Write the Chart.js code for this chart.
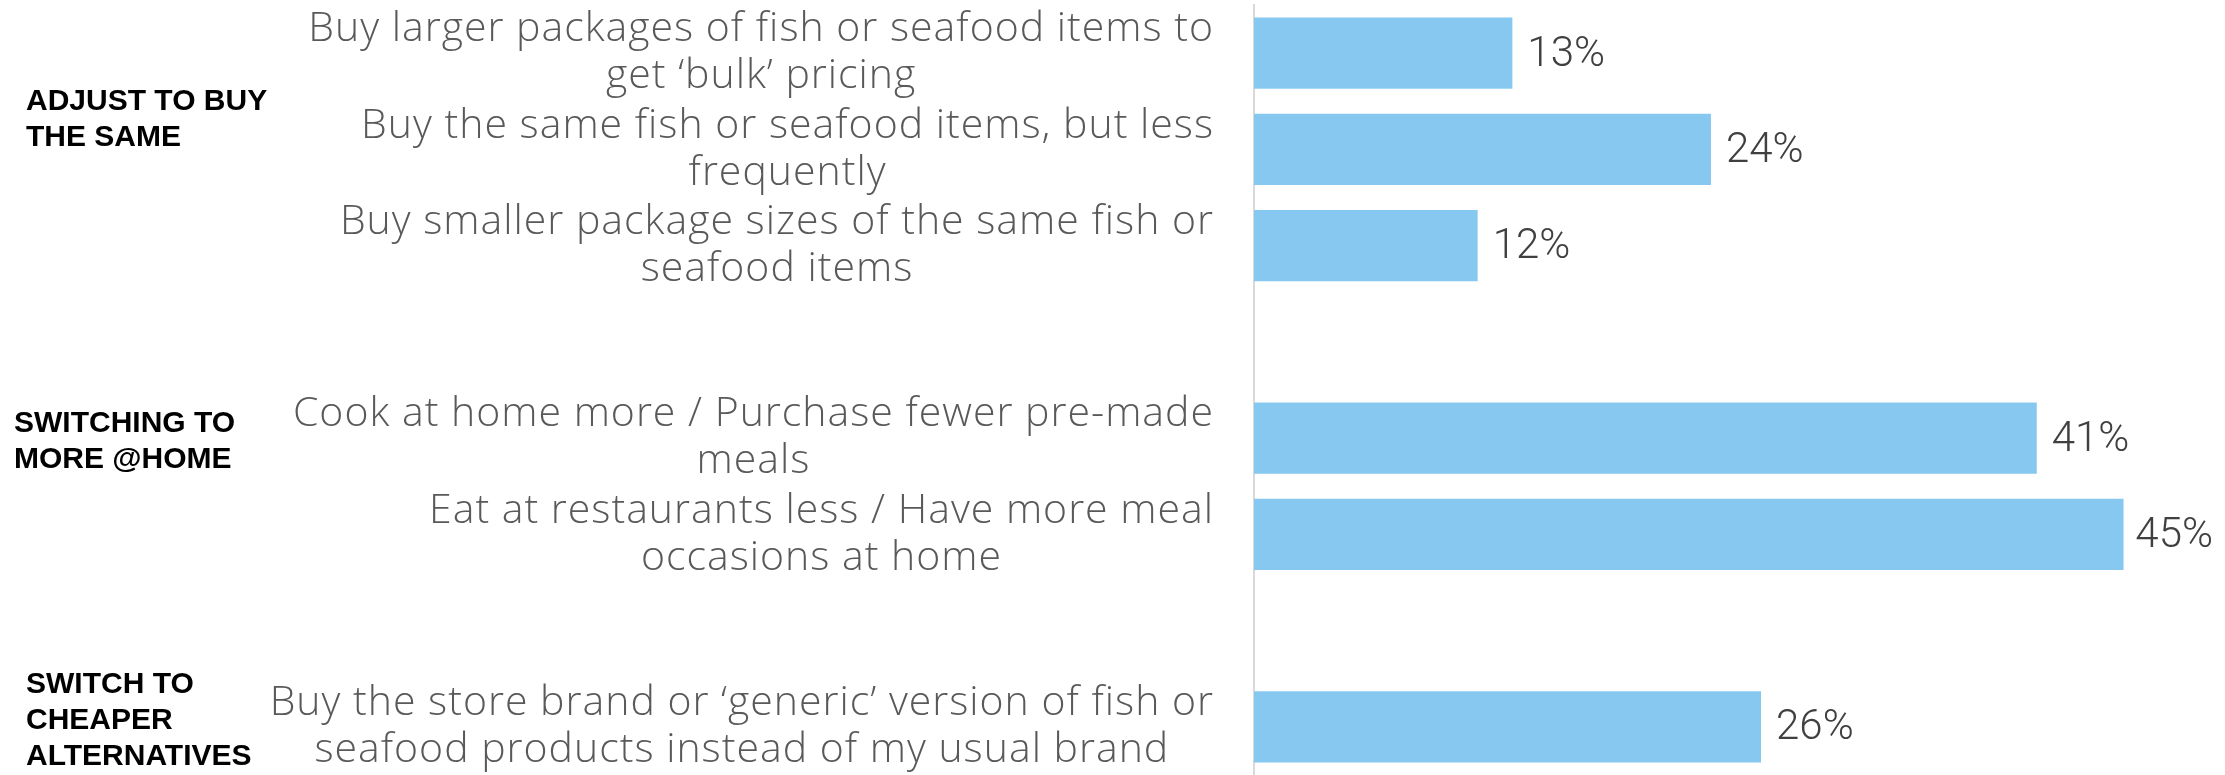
<!DOCTYPE html>
<html>
<head>
<meta charset="utf-8">
<title>Fish and seafood shopping adjustments</title>
<script src="https://cdn.jsdelivr.net/npm/chart.js@4.4.1/dist/chart.umd.min.js"></script>
<style>
  html, body { margin: 0; padding: 0; background: #ffffff; }
  #wrap { width: 2225px; height: 775px; }
</style>
</head>
<body>
<div id="wrap"><canvas id="chart" width="2225" height="775"></canvas></div>
<script>
// one slot per row, empty slots make the gaps between the groups
const categories = [
    ["Buy larger packages of fish or seafood items to", "get \u2018bulk\u2019 pricing"],
    ["Buy the same fish or seafood items, but less", "frequently"],
    ["Buy smaller package sizes of the same fish or", "seafood items"],
    [""],
    ["Cook at home more / Purchase fewer pre-made", "meals"],
    ["Eat at restaurants less / Have more meal", "occasions at home"],
    [""],
    ["Buy the store brand or \u2018generic\u2019 version of fish or", "seafood products instead of my usual brand"]
];
const shares = [13.4, 23.7, 11.6, null, 40.6, 45.1, null, 26.3];

const groupNames = [
    ["ADJUST TO BUY", "THE SAME"],
    ["SWITCHING TO", "MORE @HOME"],
    ["SWITCH TO", "CHEAPER", "ALTERNATIVES"]
];
const groupFirstRow = [0, 4, 7];

// where each group title sits: left x, and shift from its first row (in rows)
const groupPlace = [{x: 26, shift: 0.69}, {x: 14, shift: 0.04}, {x: 26, shift: -0.06}];

function drawLabels(chart)
{
    const ctx = chart.ctx;
    const yScale = chart.scales.y;
    const area = chart.chartArea;
    const meta = chart.getDatasetMeta(0);

    ctx.save();
    ctx.textBaseline = "middle";

    // category labels: centred block, right edge near the axis
    ctx.font = "300 41px 'Open Sans'";
    ctx.letterSpacing = "1px";
    ctx.fillStyle = "#595959";
    ctx.textAlign = "center";
    const rightEdge = area.left - 40;
    for (let i = 0; i < categories.length; i++)
    {
        const lines = categories[i];
        let maxW = 0;
        lines.forEach(l => { maxW = Math.max(maxW, ctx.measureText(l).width); });
        const cx = rightEdge - maxW / 2;
        const cy = yScale.getPixelForValue(i);
        lines.forEach((l, k) => {
            ctx.fillText(l, cx, cy + (k - (lines.length - 1) / 2) * 47);
        });
    }
    ctx.letterSpacing = "0px";

    // group titles
    ctx.font = "bold 30px 'Liberation Sans'";
    ctx.fillStyle = "#000000";
    ctx.textAlign = "left";
    for (let g = 0; g < groupNames.length; g++)
    {
        const lines = groupNames[g];
        const cy = yScale.getPixelForValue(groupFirstRow[g] + groupPlace[g].shift);
        lines.forEach((l, k) => {
            ctx.fillText(l, groupPlace[g].x, cy + (k - (lines.length - 1) / 2) * 36);
        });
    }

    // value labels at the end of each bar
    ctx.font = "300 42px Roboto";
    ctx.fillStyle = "#404040";
    for (let i = 0; i < shares.length; i++)
    {
        if (shares[i] === null) continue;
        const bar = meta.data[i];
        const txt = Math.round(shares[i]) + "%";
        const w = ctx.measureText(txt).width;
        const x = Math.min(bar.x + 15, chart.width - w - 12);
        ctx.fillText(txt, x, bar.y + 2);
    }
    ctx.restore();
}

const ctx = document.getElementById("chart").getContext("2d");
const myChart = new Chart(ctx, {
    type: "bar",
    data: {
        labels: categories,
        datasets: [{
            data: shares,
            backgroundColor: "#87C8F0",
            borderWidth: 0,
            categoryPercentage: 1.0,
            barPercentage: 0.74
        }]
    },
    options: {
        indexAxis: "y",
        responsive: false,
        animation: false,
        events: [],
        layout: { padding: { left: 1246, right: 7, top: 5, bottom: 0 } },
        plugins: {
            legend: { display: false },
            tooltip: { enabled: false }
        },
        scales: {
            x: {
                display: false,
                min: 0,
                max: 50
            },
            y: {
                grid: { display: false },
                border: { display: true, color: "#d9d9d9", width: 2 },
                ticks: { display: false }
            }
        }
    },
    plugins: [{ id: "labels", afterDraw: drawLabels }]
});
</script>
</body>
</html>
